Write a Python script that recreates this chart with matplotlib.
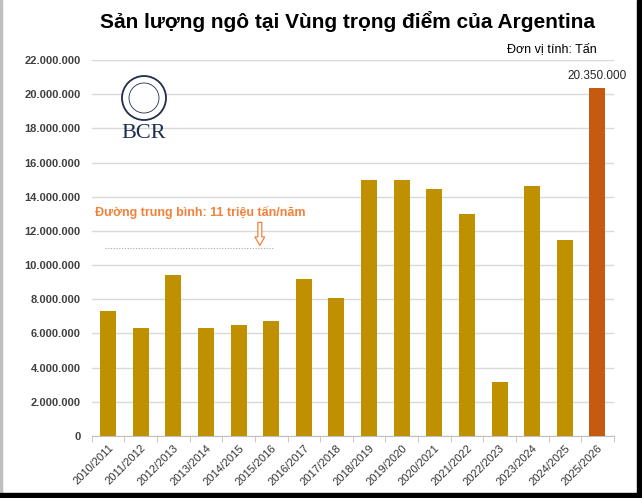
import numpy as np
import matplotlib.pyplot as plt
from matplotlib.patches import Circle, FancyArrow, Rectangle

# Dữ liệu sản lượng (tấn)
seasons = ['2010/2011', '2011/2012', '2012/2013', '2013/2014', '2014/2015',
           '2015/2016', '2016/2017', '2017/2018', '2018/2019', '2019/2020',
           '2020/2021', '2021/2022', '2022/2023', '2023/2024', '2024/2025',
           '2025/2026']
output = [7300000, 6300000, 9400000, 6300000, 6500000,
          6700000, 9200000, 8050000, 14950000, 15000000,
          14450000, 13000000, 3150000, 14600000, 11480000,
          20350000]
mean_value = 11000000
yticks = np.arange(0, 22000001, 2000000)

plt.rcParams['font.family'] = ['Liberation Sans', 'DejaVu Sans']

fig = plt.figure(figsize=(6.42, 4.98), dpi=100)
ax = fig.add_axes([0.143, 0.1245, 0.813, 0.755])

x = np.arange(len(seasons))
colors = ['#BF9000'] * (len(seasons) - 1) + ['#C55A11']
ax.bar(x, output, width=0.49, color=colors, zorder=3)

ax.set_xlim(-0.5, len(seasons) - 0.5)
ax.set_ylim(0, 22000000)
ax.set_yticks(yticks)
ax.set_yticklabels(['0' if v == 0 else f'{v:,}'.replace(',', '.') for v in yticks],
                   fontsize=8, fontweight='bold', color='#404040')
ax.set_xticks(x)
ax.set_xticklabels(seasons, rotation=45, ha='right', rotation_mode='anchor',
                   fontsize=8, color='#333333')
ax.set_xticks(np.arange(-0.5, len(seasons)), minor=True)
ax.tick_params(axis='x', which='major', length=0, pad=5)
ax.tick_params(axis='x', which='minor', length=4, color='#BFBFBF')
ax.tick_params(axis='y', length=0, pad=8)
ax.grid(axis='y', color='#D9D9D9', linewidth=1, zorder=0)
for s in ['top', 'right', 'left']:
    ax.spines[s].set_visible(False)
ax.spines['bottom'].set_color('#BFBFBF')

# nhãn giá trị cột cuối
ax.text(x[-1], output[-1] + 350000, f'{output[-1]:,}'.replace(',', '.'),
        ha='center', va='bottom', fontsize=8.5, color='#262626')

# đường trung bình
ax.plot([-0.1, 5.1], [mean_value, mean_value], linestyle=(0, (1, 1.5)),
        color='#A6A6A6', linewidth=0.8, zorder=4)
ax.text(-0.4, 13100000, 'Đường trung bình: 11 triệu tấn/năm', fontsize=9,
        fontweight='bold', color='#F4813A', va='center')
ax.add_patch(FancyArrow(4.65, 12500000, 0, -1350000, width=0.12,
                        head_width=0.3, head_length=500000, length_includes_head=True,
                        facecolor='white', edgecolor='#F4813A', linewidth=0.9,
                        zorder=5))

# logo BCR
fig.patches.append(Circle((144, 400), 22, transform=None, facecolor='white',
                          edgecolor='#1F2D4D', linewidth=1.3, zorder=6))
fig.patches.append(Circle((144, 400), 15, transform=None, facecolor='none',
                          edgecolor='#1F2D4D', linewidth=0.6, zorder=6))
fig.text(144 / 642, 1 - 133 / 498, 'BCR', ha='center', va='center',
         fontsize=16, family='Liberation Serif', color='#1F2D4D')

fig.text(347 / 642, 1 - 21 / 498, 'Sản lượng ngô tại Vùng trọng điểm của Argentina',
         ha='center', va='center', fontsize=15, fontweight='bold', color='black')
fig.text(597 / 642, 1 - 49 / 498, 'Đơn vị tính: Tấn', ha='right', va='center',
         fontsize=9, color='black')

# khung viền ảnh
fig.patches.append(Rectangle((0, 0), 2 / 642, 1, transform=fig.transFigure,
                             color='#BFBFBF', zorder=10))
fig.patches.append(Rectangle((637 / 642, 0), 5 / 642, 1, transform=fig.transFigure,
                             color='black', zorder=10))
fig.patches.append(Rectangle((0, 0), 1, 5 / 498, transform=fig.transFigure,
                             color='black', zorder=10))

fig.savefig('out.png', dpi=100)
